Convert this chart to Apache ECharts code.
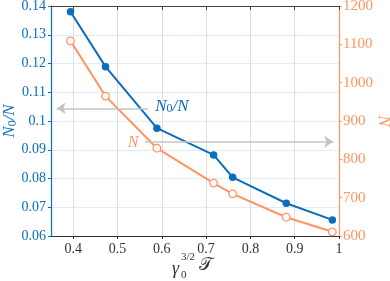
<!DOCTYPE html>
<html>
<head>
<meta charset="utf-8">
<script src="https://cdn.jsdelivr.net/npm/echarts@6/dist/echarts.min.js"></script>
<style>html,body{margin:0;padding:0;background:#fff}#c{width:390px;height:281px}</style>
</head>
<body>
<div id="c"></div>
<script>
// data
var xValues = [0.394, 0.473, 0.589, 0.717, 0.760, 0.881, 0.985];
var ratioValues = [0.1380, 0.1189, 0.0975, 0.0882, 0.0804, 0.0714, 0.0656];
var nValues = [1109, 965, 829, 738, 710, 649, 611];
var xTicks = [0.4, 0.5, 0.6, 0.7, 0.8, 0.9, 1];
var leftArrow = [[0.569, 0.1044], [0.363, 0.1044]];
var rightArrow = [[0.562, 846], [0.987, 846]];

var BLUE = '#0a6ebd', ORANGE = '#ff9460', FONT = 'Liberation Serif';
var chart = echarts.init(document.getElementById('c'), null, {renderer: 'canvas'});
function pairs(xs, ys) { return xs.map(function (x, i) { return [x, ys[i]]; }); }
function fmt(v) { return String(Math.round(v * 1000) / 1000); }

chart.setOption({
  animation: false,
  grid: {left: 51, right: 51, top: 6, bottom: 45, containLabel: false, outerBoundsMode: 'none'},
  xAxis: [{
    type: 'value', min: 0.35, max: 1,
    axisLine: {lineStyle: {color: '#333', width: 1}},
    axisTick: {show: true, length: 3, lineStyle: {color: '#333'}, customValues: xTicks},
    axisLabel: {color: '#333', fontFamily: FONT, fontSize: 14, margin: 6, customValues: xTicks, formatter: fmt},
    splitLine: {show: true, lineStyle: {color: '#dedede', width: 1}}
  }, {
    type: 'value', min: 0.35, max: 1, position: 'top',
    axisLine: {show: true, lineStyle: {color: '#444', width: 1}},
    axisTick: {show: true, inside: true, length: 4, lineStyle: {color: '#444'}, customValues: xTicks},
    axisLabel: {show: false}, splitLine: {show: false}
  }],
  yAxis: [{
    type: 'value', min: 0.06, max: 0.14, interval: 0.01, position: 'left',
    axisLine: {show: true, lineStyle: {color: BLUE, width: 1.2}},
    axisTick: {show: true, length: 3, lineStyle: {color: BLUE}},
    axisLabel: {color: BLUE, fontFamily: FONT, fontSize: 14, margin: 5, formatter: fmt},
    splitLine: {show: true, lineStyle: {color: '#e1edf8', width: 1}}
  }, {
    type: 'value', min: 600, max: 1200, interval: 100, position: 'right',
    axisLine: {show: true, lineStyle: {color: ORANGE, width: 1.2}},
    axisTick: {show: true, length: 3, lineStyle: {color: ORANGE}},
    axisLabel: {color: ORANGE, fontFamily: FONT, fontSize: 15, margin: 4, formatter: function (v) { return String(v); }},
    splitLine: {show: false}
  }],
  series: [{
    type: 'line', name: 'ratio', xAxisIndex: 0, yAxisIndex: 0,
    data: pairs(xValues, ratioValues),
    symbol: 'circle', symbolSize: 7.5,
    lineStyle: {color: BLUE, width: 2}, itemStyle: {color: BLUE},
    markLine: {silent: true, symbol: ['none', 'arrow'], symbolSize: [9, 9],
      lineStyle: {color: '#c4c4c4', width: 1.5, type: 'solid'}, label: {show: false},
      data: [[{coord: leftArrow[0]}, {coord: leftArrow[1]}]]}
  }, {
    type: 'line', name: 'N', xAxisIndex: 0, yAxisIndex: 1,
    data: pairs(xValues, nValues),
    symbol: 'circle', symbolSize: 7.5,
    lineStyle: {color: ORANGE, width: 2}, itemStyle: {color: '#fff', borderColor: ORANGE, borderWidth: 1.3},
    markLine: {silent: true, symbol: ['none', 'arrow'], symbolSize: [9, 9],
      lineStyle: {color: '#c4c4c4', width: 1.5, type: 'solid'}, label: {show: false},
      data: [[{coord: rightArrow[0]}, {coord: rightArrow[1]}]]}
  }]
});

var pBlue = chart.convertToPixel({xAxisIndex: 0, yAxisIndex: 0}, [0.623, 0.1051]);
var pOr = chart.convertToPixel({xAxisIndex: 0, yAxisIndex: 1}, [0.535, 843]);
var ratioRich = {i: {fontFamily: FONT, fontStyle: 'italic', fontSize: 17, fill: BLUE},
                 s: {fontFamily: FONT, fontSize: 12, fill: BLUE, padding: [6, 0, 0, 0]}};
chart.setOption({
  graphic: [
    {type: 'text', x: 10, y: 121, rotation: Math.PI / 2, style: {
      text: '{i|N}{s|0}{i|/N}', align: 'center', verticalAlign: 'middle', rich: ratioRich}},
    {type: 'text', x: 383, y: 121, rotation: -Math.PI / 2, style: {
      text: 'N', align: 'center', verticalAlign: 'middle', font: 'italic 17px ' + FONT, fill: ORANGE}},
    {type: 'text', x: pBlue[0], y: pBlue[1], style: {
      text: '{i|N}{s|0}{i|/N}', align: 'center', verticalAlign: 'middle', rich: ratioRich}},
    {type: 'text', x: pOr[0], y: pOr[1], style: {
      text: 'N', align: 'center', verticalAlign: 'middle',
      font: 'italic 16px ' + FONT, fill: ORANGE}},
    {type: 'text', x: 172, y: 269, style: {text: 'γ', font: 'italic 18px ' + FONT, fill: '#333', verticalAlign: 'middle'}},
    {type: 'text', x: 181, y: 275, style: {text: '0', font: '11px ' + FONT, fill: '#333', verticalAlign: 'middle'}},
    {type: 'text', x: 181, y: 257, style: {text: '3/2', font: '11px ' + FONT, fill: '#333', verticalAlign: 'middle'}},
    {type: 'text', x: 199, y: 265, style: {text: '𝒯', font: '18px ' + FONT + ', DejaVu Sans, DejaVu Serif', fill: '#333', verticalAlign: 'middle'}}
  ]
});
</script>
</body>
</html>
